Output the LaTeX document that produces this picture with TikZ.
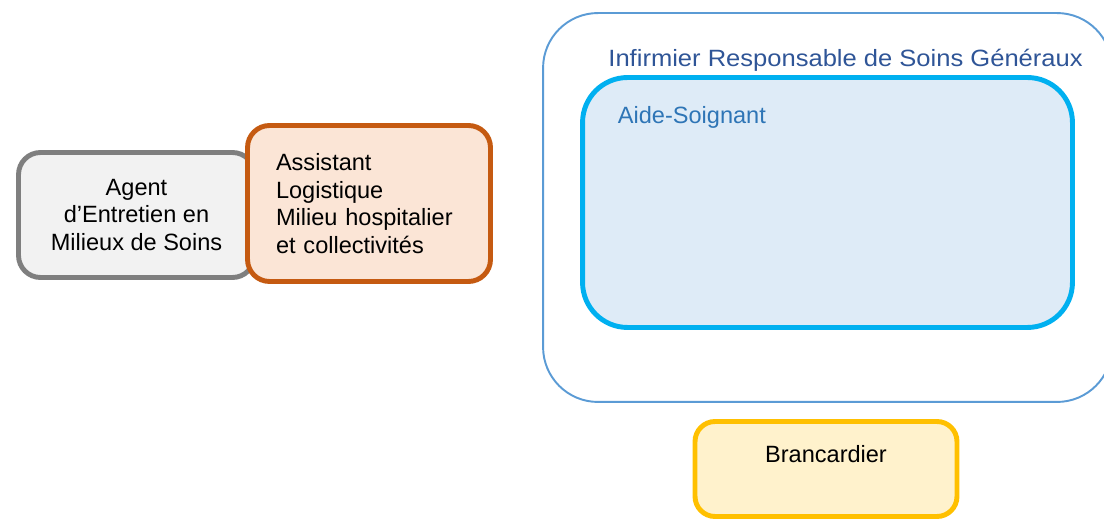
\documentclass[tikz,border=0pt]{standalone}
\usepackage{fontspec}
\setmainfont{Liberation Sans}
\usetikzlibrary{positioning}

\definecolor{greyline}{HTML}{7F7F7F}
\definecolor{greyfill}{HTML}{F2F2F2}
\definecolor{orangeline}{HTML}{C55A11}
\definecolor{orangefill}{HTML}{FBE5D6}
\definecolor{irsgline}{HTML}{5B9BD5}
\definecolor{irsgtext}{HTML}{2F5597}
\definecolor{asline}{HTML}{00B0F0}
\definecolor{asfill}{HTML}{DEEBF7}
\definecolor{astext}{HTML}{2E75B6}
\definecolor{yellowline}{HTML}{FFC000}
\definecolor{yellowfill}{HTML}{FFF2CC}

\begin{document}
\begin{tikzpicture}[
		x = 0.02cm, y = -0.02cm,
		job/.style = {draw, line width=2.8pt, rounded corners=0.44cm, inner sep=0pt,
			font=\fontsize{13.4}{15.6}\selectfont},
		group/.style = {draw, rounded corners=0.9cm, inner sep=0pt},
		title/.style = {inner sep=0pt, font=\fontsize{13.4}{15.6}\selectfont}
		]
		\useasboundingbox (0,0) rectangle (1104,519);
		\clip (0,0) rectangle (1104,519);
		% left pair of jobs
		\node[job, draw=greyline, fill=greyfill, align=center,
			minimum width=4.72cm, minimum height=2.5cm] at (136.5,215) (aems)
			{Agent\\d’Entretien en\\Milieux de Soins};
		\node[job, draw=orangeline, fill=orangefill, align=left, text width=3.72cm,
			minimum width=4.86cm, minimum height=3.12cm] at (369,203.5) (alh)
			{Assistant\\Logistique\\Milieu hospitalier\\et collectivités};

		% nursing group
		\node[group, draw=irsgline, line width=1.1pt, rounded corners=1.1cm,
			minimum width=11.38cm, minimum height=7.78cm] at (827.5,207.5) (irsg) {};
		\node[title, text=irsgtext, font=\fontsize{13.4}{15.6}\selectfont\addfontfeatures{FakeStretch=1.085},
			below right=0.74cm and 1.32cm of irsg.north west] (irsgtitle)
			{Infirmier Responsable de Soins Généraux};
		\node[group, draw=asline, fill=asfill, line width=2.8pt,
			minimum width=9.8cm, minimum height=5cm] at (827.5,202.5) (as) {};
		\node[title, text=astext, below right=0.62cm and 0.75cm of as.north west] (astitle)
			{Aide-Soignant};

		% stretcher bearer
		\node[job, draw=yellowline, fill=yellowfill, rounded corners=0.4cm,
			minimum width=5.24cm, minimum height=1.9cm] at (826,469) (brc) {};
		\node[title, below=0.52cm of brc.north] (brctitle) {Brancardier};
	\end{tikzpicture}
\end{document}
